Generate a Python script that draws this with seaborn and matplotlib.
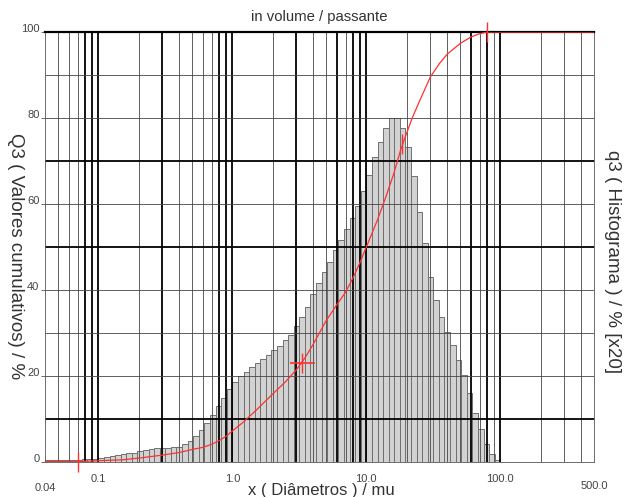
import numpy as np
import pandas as pd
import matplotlib
matplotlib.use("Agg")
import matplotlib.pyplot as plt
import seaborn as sns

# class limits in mu (instrument classes, 24 per decade)
class_edges = [
    0.03831, 0.04217, 0.04642, 0.05109, 0.05623, 0.06190, 0.06813, 0.07499, 0.08254, 0.09085,
    0.1000, 0.1101, 0.1212, 0.1334, 0.1468, 0.1616, 0.1778, 0.1957, 0.2154, 0.2371,
    0.2610, 0.2873, 0.3162, 0.3481, 0.3831, 0.4217, 0.4642, 0.5109, 0.5623, 0.6190,
    0.6813, 0.7499, 0.8254, 0.9085,
    1.000, 1.101, 1.212, 1.334, 1.468, 1.616, 1.778, 1.957, 2.154, 2.371,
    2.610, 2.873, 3.162, 3.481, 3.831, 4.217, 4.642, 5.109, 5.623, 6.190,
    6.813, 7.499, 8.254, 9.085,
    10.00, 11.01, 12.12, 13.34, 14.68, 16.16, 17.78, 19.57, 21.54, 23.71,
    26.10, 28.73, 31.62, 34.81, 38.31, 42.17, 46.42, 51.09, 56.23, 61.90,
    68.13, 74.99, 82.54, 90.85,
    100.0,
]

# q3 histogram, % per class x20
q3_hist = [
    0.5, 0.5, 0.5, 0.5, 0.5, 0.5, 0.5, 0.6, 0.7, 0.8,
    0.9, 1.1, 1.3, 1.6, 1.8, 2.0, 2.2, 2.6, 2.9, 3.1,
    3.2, 3.2, 3.3, 3.4, 3.6, 4.3, 5.0, 6.0, 7.4, 9.0,
    11.0, 13.0, 15.0, 17.0, 18.5, 20.0, 21.0, 22.0, 23.0, 24.0,
    25.0, 26.0, 27.0, 28.4, 29.5, 31.6, 33.8, 36.0, 39.0, 41.6,
    44.2, 46.5, 49.3, 51.6, 54.3, 56.7, 59.5, 63.1, 66.7, 70.9,
    74.5, 77.6, 79.9, 79.9, 77.6, 73.2, 66.5, 58.2, 51.0, 43.1,
    37.7, 33.8, 30.3, 27.2, 23.7, 20.2, 16.1, 11.5, 7.6, 4.1,
    1.9, 0.5,
]

# Q3 cumulative curve (passante)
cum_size = [0.04, 0.07, 0.1, 0.15, 0.2, 0.3, 0.4, 0.5, 0.6, 0.7, 0.8, 0.9, 1.0, 1.2, 1.5,
            2.0, 2.5, 3.0, 3.5, 4.0, 5.0, 6.0, 7.0, 8.0, 9.0, 10.0, 12.0, 14.0, 16.0,
            18.0, 20.0, 22.0, 25.0, 30.0, 35.0, 40.0, 50.0, 60.0, 70.0, 80.0, 500.0]
cum_q3 = [0.1, 0.1, 0.3, 0.5, 0.9, 1.6, 2.2, 2.9, 3.4, 4.1, 5.0, 6.0, 7.2, 9.2, 12.0,
          15.8, 18.7, 21.4, 24.3, 27.3, 32.8, 36.5, 39.5, 43.0, 46.5, 50.0, 56.0, 61.7, 67.0,
          72.5, 76.5, 80.0, 84.0, 89.5, 92.6, 94.8, 97.3, 98.8, 99.6, 100.0, 100.0]

# marked points on the curve
mark_size = [0.07, 3.3, 18.5, 80.0]
mark_q3 = [0.0, 23.0, 74.0, 100.0]

x_ticks = [0.1, 1.0, 10.0, 100.0]
x_tick_labels = ["0.1", "1.0", "10.0", "100.0"]
y_ticks = [0, 20, 40, 60, 80, 100]

sns.set_style("white")
plt.rcParams["font.family"] = ["Liberation Sans", "DejaVu Sans"]

W, H = 624, 497
fig = plt.figure(figsize=(W / 100, H / 100), dpi=100)
ax = fig.add_axes([45 / W, 1 - 462 / H, 549 / W, 430 / H])

edges = np.array(class_edges)
centers = np.sqrt(edges[:-1] * edges[1:])
hist_df = pd.DataFrame({"size": centers, "q3": q3_hist})

sns.histplot(data=hist_df, x="size", weights="q3", bins=list(np.log10(edges)), log_scale=True,
             color="#d2d2d2", edgecolor="#707070", linewidth=0.7, alpha=1, ax=ax, zorder=1)

ax.set_xlim(0.04, 500)
ax.set_ylim(0, 100)

# grid: every log position, some drawn heavier
heavy_x = [0.08, 0.09, 0.1, 0.3, 0.8, 0.9, 1.0, 3.0, 6.0, 8.0, 9.0, 10.0, 60.0, 80.0, 100.0]
for dec in [0.01, 0.1, 1, 10, 100]:
    for m in range(1, 10):
        v = round(m * dec, 4)
        if 0.04 < v < 500:
            heavy = any(abs(v - h) < 1e-6 for h in heavy_x)
            ax.axvline(v, color="#000" if heavy else "#444",
                       lw=1.3 if heavy else 0.6, zorder=2)
for yv in range(10, 100, 10):
    heavy = yv in (10, 50, 70)
    ax.axhline(yv, color="#000" if heavy else "#444", lw=1.3 if heavy else 0.6, zorder=2)

curve_df = pd.DataFrame({"size": cum_size, "Q3": cum_q3})
sns.lineplot(data=curve_df, x="size", y="Q3", color="#ff3030", lw=0.9, ax=ax, zorder=4)

ax.plot(mark_size, mark_q3, ls="none", marker="|", ms=14, mew=1.0, color="#ff3030",
        zorder=5, clip_on=False)
ax.plot([mark_size[1]], [mark_q3[1]], ls="none", marker="_", ms=18, mew=1.2, color="#ff3030",
        zorder=5, clip_on=False)

for side in ["left", "right", "bottom"]:
    ax.spines[side].set_color("#555")
    ax.spines[side].set_linewidth(0.6)
ax.spines["top"].set_color("#000")
ax.spines["top"].set_linewidth(1.6)

ax.set_xticks(x_ticks)
ax.set_xticklabels(x_tick_labels)
ax.xaxis.set_minor_locator(matplotlib.ticker.NullLocator())
ax.tick_params(axis="x", length=0, pad=9, labelsize=8, labelcolor="#444")
ax.set_yticks(y_ticks)
ax.set_yticklabels([str(v) for v in y_ticks])
ax.tick_params(axis="y", left=True, length=3, width=0.6, color="#555", pad=1,
               labelsize=8, labelcolor="#444")
for lbl in ax.get_yticklabels():
    lbl.set_verticalalignment("baseline")

ax.text(0.04, -0.06, "0.04", transform=ax.get_xaxis_transform(), ha="center", va="center",
        fontsize=8, color="#444")
ax.text(500, -0.055, "500.0", transform=ax.get_xaxis_transform(), ha="center", va="center",
        fontsize=8, color="#444")
ax.set_xlabel("")
ax.set_ylabel("")

ax2 = ax.twinx()
ax2.set_ylim(0, 100)
ax2.set_yticks([])
for s in ax2.spines.values():
    s.set_visible(False)

fig.text(319 / W, 1 - 17 / H, "in volume / passante", ha="center", va="center",
         fontsize=10.7, color="#333")
fig.text(15 / W, 1 - 256 / H, "Q3 ( Valores cumulativos) / %", rotation=270,
         ha="center", va="center", fontsize=13.5, color="#333")
fig.text(612 / W, 1 - 262 / H, "q3 ( Histograma ) / % [x20]", rotation=270,
         ha="center", va="center", fontsize=13.5, color="#333")
fig.text(321 / W, 1 - 491 / H, "x ( Diâmetros ) / mu", ha="center", va="center",
         fontsize=12, color="#333")

fig.savefig("out.png", dpi=100)
